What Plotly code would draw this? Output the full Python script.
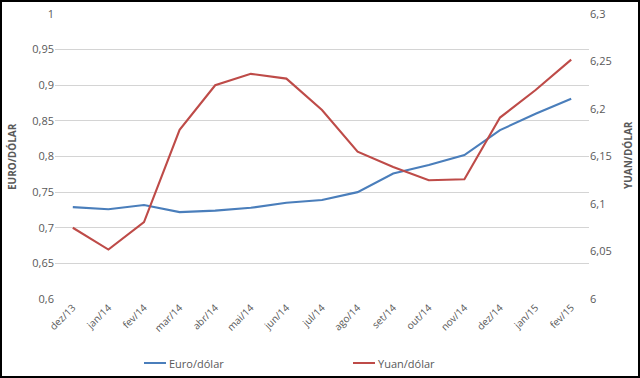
import plotly.graph_objects as go

months = ["dez/13", "jan/14", "fev/14", "mar/14", "abr/14", "mai/14", "jun/14", "jul/14",
          "ago/14", "set/14", "out/14", "nov/14", "dez/14", "jan/15", "fev/15"]
euro_dolar = [0.729, 0.726, 0.732, 0.722, 0.724, 0.728, 0.735, 0.739,
              0.750, 0.776, 0.788, 0.802, 0.837, 0.860, 0.881]
yuan_dolar = [6.075, 6.052, 6.081, 6.178, 6.225, 6.237, 6.232, 6.199,
              6.155, 6.139, 6.125, 6.126, 6.191, 6.220, 6.252]
series_names = ["Euro/dólar", "Yuan/dólar"]
series_colors = ["#4A7EBB", "#BE4B48"]

left_ticks = [0.6, 0.65, 0.7, 0.75, 0.8, 0.85, 0.9, 0.95, 1.0]
left_labels = ["0,6", "0,65", "0,7", "0,75", "0,8", "0,85", "0,9", "0,95", "1"]
right_ticks = [6.0, 6.05, 6.1, 6.15, 6.2, 6.25, 6.3]
right_labels = ["6", "6,05", "6,1", "6,15", "6,2", "6,25", "6,3"]

W, H = 640, 378
ML, MR, MT, MB = 55, 51, 14, 79
PW, PH = W - ML - MR, H - MT - MB

font = "Open Sans"
grey = "#595959"


def px(x):
    return (x - ML) / PW


def py(y):
    return 1 - (y - MT) / PH


fig = go.Figure()
fig.add_trace(go.Scatter(x=months, y=euro_dolar, name=series_names[0], mode="lines",
                         line=dict(color=series_colors[0], width=2.1), yaxis="y",
                         showlegend=False))
fig.add_trace(go.Scatter(x=months, y=yuan_dolar, name=series_names[1], mode="lines",
                         line=dict(color=series_colors[1], width=2.1), yaxis="y2",
                         showlegend=False))

# manual legend (lines + labels) placed below the plot
legend_x = [144, 353]
legend_y = 363
shapes = []
annotations = []
for name, color, lx in zip(series_names, series_colors, legend_x):
    shapes.append(dict(type="line", xref="paper", yref="paper",
                       x0=px(lx), x1=px(lx + 22), y0=py(legend_y), y1=py(legend_y),
                       line=dict(color=color, width=2)))
    annotations.append(dict(text=name, xref="paper", yref="paper",
                            x=px(lx + 23), y=py(legend_y), showarrow=False,
                            xanchor="left", yanchor="middle",
                            font=dict(family=font, size=11, color=grey)))

annotations += [
    dict(text="<b>EURO/DÓLAR</b>", textangle=-90, xref="paper", yref="paper",
         x=px(12), y=py(157), showarrow=False, xanchor="center", yanchor="middle",
         font=dict(family=font, size=10, color=grey)),
    dict(text="<b>YUAN/DÓLAR</b>", textangle=-90, xref="paper", yref="paper",
         x=px(628), y=py(155), showarrow=False, xanchor="center", yanchor="middle",
         font=dict(family=font, size=10, color=grey)),
]
shapes.append(dict(type="rect", xref="paper", yref="paper",
                   x0=px(1), x1=px(W - 1), y0=py(H - 1), y1=py(1),
                   line=dict(color="black", width=2), fillcolor="rgba(0,0,0,0)",
                   layer="above"))

fig.update_layout(
    width=W, height=H,
    margin=dict(l=ML, r=MR, t=MT, b=MB, autoexpand=False),
    paper_bgcolor="white", plot_bgcolor="white",
    font=dict(family=font, size=11, color=grey),
    showlegend=False,
    xaxis=dict(type="category", range=[-0.5, len(months) - 0.5],
               tickangle=-45, showgrid=False, showline=False, ticks="",
               automargin=False,
               tickfont=dict(family=font, size=10, color=grey)),
    yaxis=dict(range=[0.6, 1.0], tickvals=left_ticks, ticktext=left_labels,
               showgrid=True, gridcolor="#D4D4D4", gridwidth=1, zeroline=False,
               showline=False, ticks="", automargin=False,
               tickfont=dict(family=font, size=11, color=grey)),
    yaxis2=dict(range=[6.0, 6.3], tickvals=right_ticks, ticktext=right_labels,
                overlaying="y", side="right", showgrid=False, zeroline=False,
                showline=False, ticks="", automargin=False,
                tickfont=dict(family=font, size=11, color=grey)),
    annotations=annotations,
    shapes=shapes,
)

fig.write_html("out.html", config={"displayModeBar": False},
               post_script="document.body.style.margin='0';document.body.style.overflow='hidden';")
